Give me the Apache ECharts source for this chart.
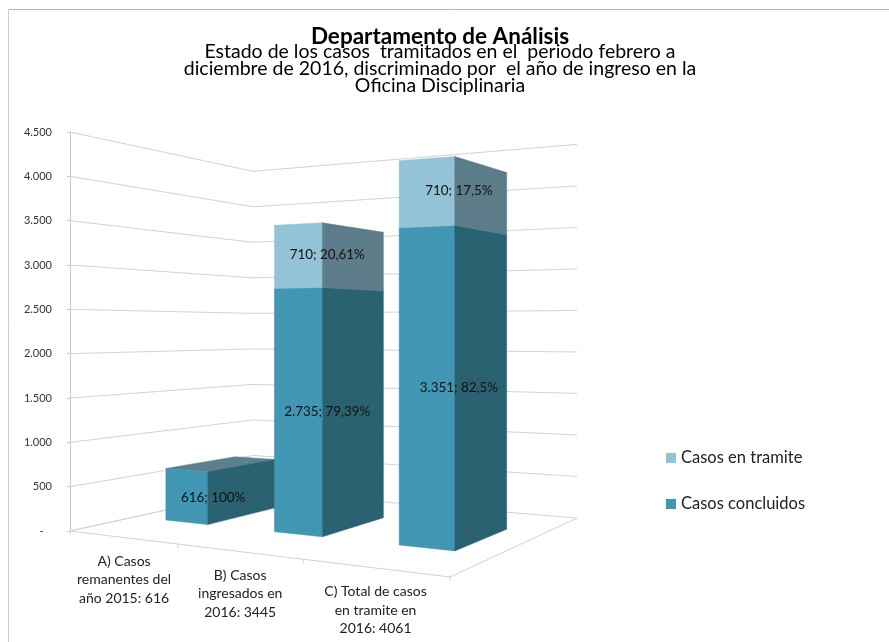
<!DOCTYPE html>
<html><head><meta charset="utf-8">
<style>html,body{margin:0;padding:0;background:#fff}#c{width:889px;height:642px}</style>
<script src="https://cdn.jsdelivr.net/npm/echarts@6/dist/echarts.min.js"></script>
</head><body><div id="c"></div>
<script>
const titleText = 'Departamento de Análisis';
const subtitleText = 'Estado de los casos  tramitados en el  periodo febrero a\ndiciembre de 2016, discriminado por  el año de ingreso en la\nOficina Disciplinaria';
const categories = ['A) Casos\nremanentes del\naño 2015: 616', 'B) Casos\ningresados en\n2016: 3445', 'C) Total de casos\nen tramite en\n2016: 4061'];
const concluidos = [616, 2735, 3351];
const enTramite = [null, 710, 710];
const pctConcluidos = ['100', '79,39', '82,5'];
const pctTramite = [null, '20,61', '17,5'];
const yTicks = [0, 500, 1000, 1500, 2000, 2500, 3000, 3500, 4000, 4500];
const nameConcluidos = 'Casos concluidos';
const nameTramite = 'Casos en tramite';

// Perspective of the 3D plot box: floor corners (front-left, front-right, back-right, back-left)
const FL=[70,531], FR=[450,577], BR=[577,518], BL=[253,491];
const dx1=FR[0]-BR[0], dx2=BL[0]-BR[0], sx=FL[0]-FR[0]+BR[0]-BL[0];
const dy1=FR[1]-BR[1], dy2=BL[1]-BR[1], sy=FL[1]-FR[1]+BR[1]-BL[1];
const det=dx1*dy2-dx2*dy1;
const g=(sx*dy2-dx2*sy)/det, h=(dx1*sy-sx*dy1)/det;
const a=FR[0]-FL[0]+g*FR[0], b=BL[0]-FL[0]+h*BL[0];
const d=FR[1]-FL[1]+g*FR[1], e=BL[1]-FL[1]+h*BL[1];
// u: 0..1 along categories, v: 0..1 front to back, rise: pixels of the value above zero at the front-left edge
function proj(u,v,rise){
  const w=1+g*u+h*v, wh=1-0.18*u+0.248*v;
  return [(a*u+b*v+FL[0])/w, (d*u+e*v+FL[1])/w - rise/wh];
}
const HALF_U=0.067, SHIFT_U=0.004, V0=0.305, V1=0.695;
const fmt=n=>String(n).replace(/\B(?=(\d{3})+$)/g,'.');

const lineStyle={stroke:'#d3d3d3',lineWidth:1,fill:null};
function poly(points,fill){return {type:'polygon',shape:{points},style:{fill,stroke:fill,lineWidth:0.5}};}

function box(api,colors,pct,showTop){
  const cat=api.value(0), base=api.value(1), val=api.value(2);
  if(val==null||isNaN(val)) return {type:'group',children:[]};
  const y0=api.coord([0,0])[1];
  const r0=y0-api.coord([0,base])[1], r1=y0-api.coord([0,base+val])[1];
  const cx=api.coord([cat,0])[0];
  const left=api.coord([0,0])[0]-api.size([1,0])[0]/2;
  const uc=(cx-left)/(api.size([1,0])[0]*categories.length)+SHIFT_U;
  const u0=uc-HALF_U,u1=uc+HALF_U;
  const fl0=proj(u0,V0,r0),fr0=proj(u1,V0,r0),br0=proj(u1,V1,r0);
  const fl1=proj(u0,V0,r1),fr1=proj(u1,V0,r1),br1=proj(u1,V1,r1),bl1=proj(u0,V1,r1);
  const children=[];
  if(showTop) children.push(poly([fl1,fr1,br1,bl1],colors.top));
  children.push(poly([fl0,fr0,fr1,fl1],colors.front));
  children.push(poly([fr0,br0,br1,fr1],colors.side));
  children.push({type:'text',x:fr0[0]+(br0[0]-fr0[0])*0.08,y:(fr0[1]+fr1[1])/2,style:{text:fmt(val)+'; '+pct[cat]+'%',font:'13.4px Lato',fill:'#111',align:'center',verticalAlign:'middle'}});
  return {type:'group',children};
}

const option={
  animation:false,
  backgroundColor:'#fff',
  title:{text:titleText,subtext:subtitleText,left:435,textAlign:'center',top:25,itemGap:-10,
    textStyle:{fontFamily:'Lato',fontWeight:'bold',fontSize:22.5,color:'#000',lineHeight:14},
    subtextStyle:{fontFamily:'Lato',fontSize:19.5,color:'#000',lineHeight:17,align:'center'}},
  legend:{data:[nameTramite,nameConcluidos],orient:'vertical',left:661,top:444.5,itemWidth:10,itemHeight:10,itemGap:29,
    textStyle:{fontFamily:'Lato',fontSize:16.5,color:'#222'},
    icon:'rect'},
  grid:{left:70,top:132,width:507,height:399},
  xAxis:{type:'category',data:categories,show:false},
  yAxis:{type:'value',min:0,max:4500,interval:500,
    axisLine:{show:true,lineStyle:{color:'#c8c8c8'}},
    axisTick:{show:true,length:3,lineStyle:{color:'#c8c8c8'}},
    splitLine:{show:false},
    axisLabel:{fontFamily:'Lato',fontSize:11,color:'#333',margin:18,formatter:v=>v===0?'-   ':fmt(v)}},
  series:[
    {type:'custom',name:'paredes',coordinateSystem:'cartesian2d',silent:true,z:1,clip:false,
     data:yTicks.map(t=>[0,t]),encode:{x:0,y:1},
     renderItem:(p,api)=>{
       const r=api.coord([0,0])[1]-api.coord([0,api.value(1)])[1];
       return {type:'polyline',shape:{points:[proj(0,0,r),proj(0,1,r),proj(1,1,r)]},style:lineStyle};
     }},
    {type:'custom',name:'suelo',coordinateSystem:'cartesian2d',silent:true,z:1,clip:false,
     data:categories.map((c,i)=>[i,0]),encode:{x:0,y:1},
     renderItem:(p,api)=>{
       const i=api.value(0), n=categories.length;
       const kids=[];
       const a0=proj(i/n,0,0), a1=proj((i+1)/n,0,0);
       kids.push({type:'line',shape:{x1:a0[0],y1:a0[1],x2:a1[0],y2:a1[1]},style:lineStyle});
       kids.push({type:'line',shape:{x1:a1[0],y1:a1[1],x2:a1[0],y2:a1[1]+4},style:lineStyle});
       if(i===n-1){const c=proj(1,1,0);kids.push({type:'line',shape:{x1:a1[0],y1:a1[1],x2:c[0],y2:c[1]},style:lineStyle});}
       if(i===0){const c=proj(0,1,0);kids.push({type:'line',shape:{x1:a0[0],y1:a0[1],x2:a0[0],y2:a0[1]+4},style:lineStyle});kids.push({type:'line',shape:{x1:a0[0],y1:a0[1],x2:c[0],y2:c[1]},style:lineStyle});}
       const m=proj((i+0.5)/n,0,0);
       kids.push({type:'text',x:m[0]+2,y:m[1]+15,style:{text:categories[i],font:'14px Lato',lineHeight:18.3,fill:'#222',align:'center',verticalAlign:'top'}});
       return {type:'group',children:kids};
     }},
    {type:'custom',name:nameConcluidos,coordinateSystem:'cartesian2d',silent:true,z:3,clip:false,
     itemStyle:{color:'#4096b3'},
     data:concluidos.map((v,i)=>[i,0,v]),encode:{x:0,y:2},
     renderItem:(p,api)=>box(api,{front:'#4096b3',side:'#2a6272',top:'#5d808e'},pctConcluidos,true)},
    {type:'custom',name:nameTramite,coordinateSystem:'cartesian2d',silent:true,z:4,clip:false,
     itemStyle:{color:'#92c3d6'},
     data:enTramite.map((v,i)=>[i,concluidos[i],v]),encode:{x:0,y:2},
     renderItem:(p,api)=>box(api,{front:'#92c3d6',side:'#5d7c89',top:'#a5c6d3'},pctTramite,false)}
  ],
  graphic:[
    {type:'line',silent:true,shape:{x1:8,y1:9.5,x2:889,y2:9.5},style:{stroke:'#b4b4b4',lineWidth:1}},
    {type:'line',silent:true,shape:{x1:8.5,y1:9,x2:8.5,y2:642},style:{stroke:'#d0d0d0',lineWidth:1}}
  ]
};
echarts.init(document.getElementById('c')).setOption(option);
</script></body></html>
